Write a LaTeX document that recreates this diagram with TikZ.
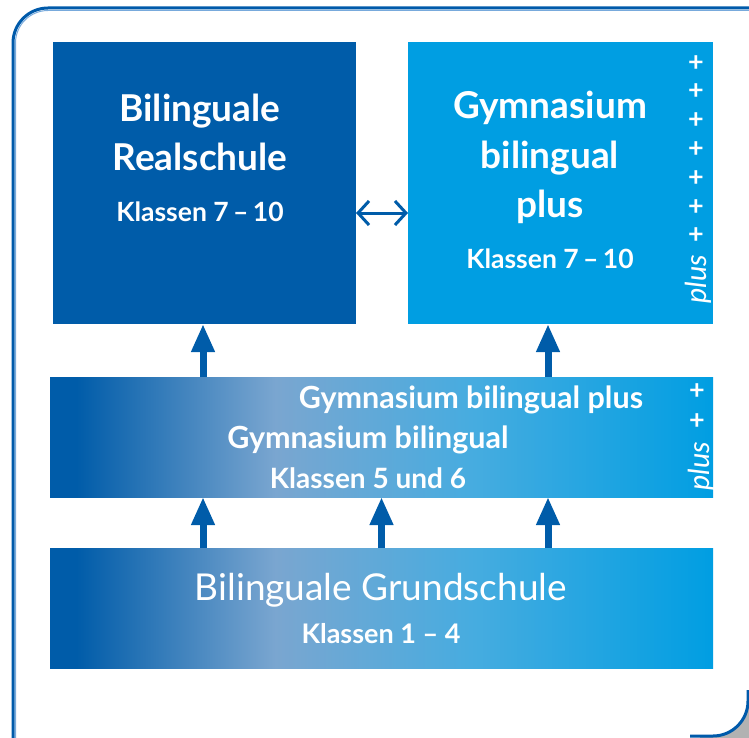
\documentclass[tikz,border=0pt]{standalone}
\usepackage{fontspec}
\setmainfont{Lato}
\usetikzlibrary{arrows.meta,calc}
\definecolor{dkb}{RGB}{0,92,169}
\definecolor{cyb}{RGB}{0,158,226}
\definecolor{midb}{RGB}{122,166,208}
\definecolor{brb}{RGB}{70,172,224}
\definecolor{lineb}{RGB}{0,90,170}
\definecolor{lightline}{RGB}{120,170,220}
\definecolor{shad}{RGB}{178,178,178}
\pgfdeclarehorizontalshading{bandshade}{100bp}{color(0bp)=(dkb); color(27bp)=(dkb); color(42bp)=(midb); color(57bp)=(brb); color(75bp)=(cyb); color(100bp)=(cyb)}
\begin{document}
\begin{tikzpicture}[x=1pt,y=-1pt,
  box/.style={draw=none,inner sep=0pt,outer sep=0pt,anchor=north west},
  band/.style={box,shading=bandshade,minimum width=663pt,minimum height=120pt},
  big/.style={text=white,inner sep=0pt,anchor=base,font=\fontsize{37}{37}\selectfont\bfseries},
  mid/.style={text=white,inner sep=0pt,anchor=base,font=\fontsize{30.5}{30.5}\selectfont\bfseries},
  small/.style={text=white,inner sep=0pt,anchor=base,font=\fontsize{26.5}{26.5}\selectfont\bfseries},
  plussigns/.style={text=white,inner sep=0pt,align=center,font=\fontsize{27}{#1}\selectfont\bfseries},
  plusword/.style={text=white,inner sep=0pt,rotate=90,font=\fontsize{29}{29}\selectfont\itshape},
  uparrow/.style={draw=dkb,line width=7pt,-{Triangle[width=22pt,length=28pt]}},
  twoway/.style={draw=dkb,line width=3pt,{Straight Barb[width=24pt,length=11pt]}-{Straight Barb[width=24pt,length=11pt]}},
  frm/.style={draw=lineb,line width=3pt},
  frmin/.style={draw=lightline,line width=1pt}]
\useasboundingbox (0,0) rectangle (749,738);
% frame
\fill[shad] (700,690) rectangle (749,738);
\fill[white] (600,600) -- (748,600) -- (748,701) arc[start angle=0,end angle=90,radius=35] -- (600,736) -- cycle;
\draw[frmin] (15.5,745) -- (15.5,43) arc[start angle=180,end angle=270,radius=32.5] -- (760,10.5);
\draw[frm] (13,745) -- (13,43) arc[start angle=180,end angle=270,radius=35] -- (760,8);
\draw[frm] (748,690) -- (748,701) arc[start angle=0,end angle=90,radius=35] -- (690,736);
% boxes
\node[box,fill=dkb,minimum width=303pt,minimum height=282pt] (rs) at (53,42) {};
\node[box,fill=cyb,minimum width=305pt,minimum height=282pt] (gy) at (408,42) {};
\node[band] (mb) at (50,377) {};
\node[band] (gs) at (50,548) {};
% texts
\node[big] (t1) at (200,122) {Bilinguale};
\node[big] (t2) at (200,171) {Realschule};
\node[small] (t3) at (200,222) {Klassen 7\,–\,10};
\node[big] (t4) at (550,119) {Gymnasium};
\node[big] (t5) at (550,169) {bilingual};
\node[big] (t6) at (550,218) {plus};
\node[small] (t7) at (550,268) {Klassen 7\,–\,10};
\node[mid] (t8) at (471,408) {Gymnasium bilingual plus};
\node[mid] (t9) at (368,448) {Gymnasium bilingual};
\node[small,font=\fontsize{28}{28}\selectfont\bfseries] (t10) at (368,488) {Klassen 5 und 6};
\node[text=white,inner sep=0pt,anchor=base,font=\fontsize{37}{37}\selectfont] (t11) at (381,600) {Bilinguale Grundschule};
\node[small,font=\fontsize{27}{27}\selectfont\bfseries] (t12) at (381,643) {Klassen 1 – 4};
% plus columns
\node[plussigns=28.8] (pa) at (696,149.5) {+\\+\\+\\+\\+\\+\\+};
\node[plusword] (pw1) at (698,279) {plus};
\node[plussigns=30] (pb) at (697,407) {+\\+};
\node[plusword] (pw2) at (701,466) {plus};
% arrows
\coordinate (ax) at ($(gy.south west)+(140,0)$);
\coordinate (bx) at ($(rs.south west)+(150,0)$);
\draw[uparrow] (bx |- mb.north) -- (bx);
\draw[uparrow] (ax |- mb.north) -- (ax);
\draw[uparrow] (bx |- gs.north) -- (bx |- mb.south);
\draw[uparrow] (mb.south |- gs.north) -- (mb.south);
\draw[uparrow] (ax |- gs.north) -- (ax |- mb.south);
\coordinate (hx) at ($(rs.north east)+(0,171)$);
\draw[twoway] (hx) -- (hx -| gy.west);
\end{tikzpicture}
\end{document}
